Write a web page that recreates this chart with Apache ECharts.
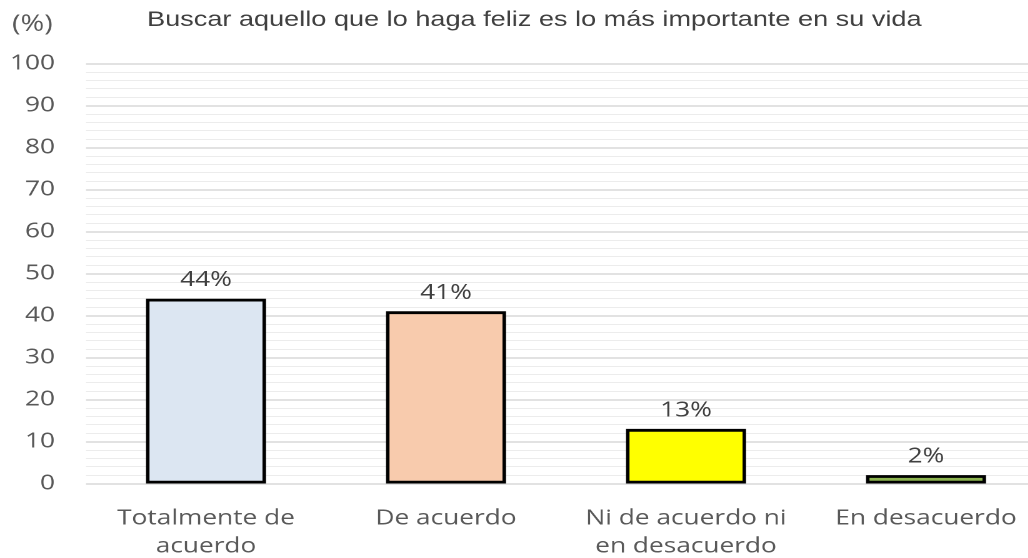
<!DOCTYPE html>
<html>
<head>
<meta charset="utf-8">
<script src="https://cdn.jsdelivr.net/npm/echarts@6/dist/echarts.min.js"></script>
<style>
  html, body { margin: 0; padding: 0; background: #fff; overflow: hidden; }
  #frame { width: 1028px; height: 558px; overflow: hidden; }
  /* the chart is laid out narrower and widened to the frame, giving the broad lettering */
  #chart { width: 822.4px; height: 558px; transform: scaleX(1.25); transform-origin: 0 0; }
</style>
</head>
<body>
<div id="frame"><div id="chart"></div></div>
<script>
const titleText = 'Buscar aquello que lo haga feliz es lo más importante en su vida';
const unitText = '(%)';
const categories = ['Totalmente de\nacuerdo', 'De acuerdo', 'Ni de acuerdo ni\nen desacuerdo', 'En desacuerdo'];
const values = [44, 41, 13, 2];
const barColors = ['#DCE6F2', '#F8CBAD', '#FFFF00', '#8DB450'];

const chart = echarts.init(document.getElementById('chart'), null, { renderer: 'canvas', devicePixelRatio: 2 });

chart.setOption({
  animation: false,
  backgroundColor: '#ffffff',
  title: [
    {
      text: titleText,
      left: 117.6,
      top: 9,
      padding: 0,
      textStyle: { fontFamily: 'Liberation Sans', fontSize: 21.7, fontWeight: 'normal', color: '#404040' }
    },
    {
      text: unitText,
      left: 9.6,
      top: 13,
      padding: 0,
      textStyle: { fontFamily: 'Open Sans', fontSize: 23, fontWeight: 'normal', color: '#595959' }
    }
  ],
  grid: { left: 68.8, top: 63.5, width: 768, height: 420, containLabel: false, outerBoundsMode: 'none' },
  xAxis: {
    type: 'category',
    data: categories,
    axisLine: { show: false },
    axisTick: { show: false },
    axisLabel: {
      margin: 21,
      fontFamily: 'Open Sans',
      fontSize: 21,
      lineHeight: 28,
      color: '#595959',
      interval: 0
    }
  },
  yAxis: {
    type: 'value',
    min: 0,
    max: 100,
    interval: 10,
    axisLine: { show: false },
    axisTick: { show: false },
    minorTick: { show: false, splitNumber: 5 },
    axisLabel: {
      margin: 24.8,
      fontFamily: 'Open Sans',
      fontSize: 21,
      color: '#595959'
    },
    splitLine: { show: true, lineStyle: { color: '#d9d9d9', width: 1.5 } },
    minorSplitLine: { show: true, lineStyle: { color: '#ececec', width: 1 } }
  },
  series: [{
    type: 'bar',
    data: values.map((v, i) => ({ value: v, itemStyle: { color: barColors[i] } })),
    barWidth: 96,
    itemStyle: { borderColor: '#000000', borderWidth: 2.8 },
    label: {
      show: true,
      position: 'top',
      distance: 8,
      formatter: '{c}%',
      fontFamily: 'Open Sans',
      fontSize: 21,
      color: '#404040'
    }
  }]
});
</script>
</body>
</html>
